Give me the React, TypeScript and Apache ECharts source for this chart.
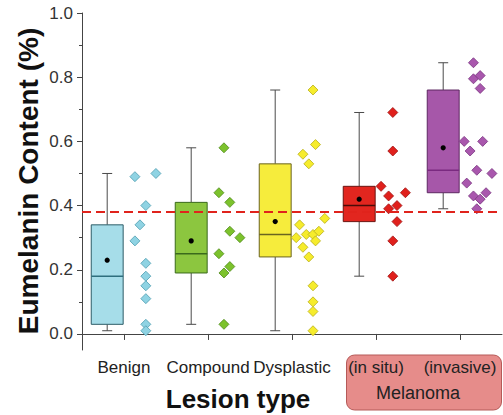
import React, { useEffect, useRef } from "react";
import * as echarts from "echarts";

// ---- data ----
const categories = ["Benign", "Compound", "Dysplastic", "(in situ)", "(invasive)"];
// [min, q1, median, q3, max, mean]
const benignBox = [0.01, 0.03, 0.18, 0.34, 0.5, 0.23];
const compoundBox = [0.03, 0.19, 0.25, 0.41, 0.58, 0.29];
const dysplasticBox = [0.01, 0.24, 0.31, 0.53, 0.76, 0.35];
const inSituBox = [0.18, 0.35, 0.4, 0.46, 0.69, 0.42];
const invasiveBox = [0.39, 0.44, 0.51, 0.76, 0.845, 0.58];

// individual points: [jitter offset from category centre (category units), value]
const benignPts = [
  [0.13, 0.49], [0.38, 0.5], [0.26, 0.4], [0.19, 0.34], [0.13, 0.29], [0.26, 0.22],
  [0.26, 0.18], [0.26, 0.15], [0.26, 0.11], [0.26, 0.03], [0.26, 0.01],
];
const compoundPts = [
  [0.19, 0.58], [0.13, 0.44], [0.26, 0.41], [0.26, 0.32], [0.38, 0.3], [0.13, 0.25],
  [0.26, 0.21], [0.19, 0.19], [0.19, 0.03],
];
const dysplasticPts = [
  [0.25, 0.76], [0.28, 0.59], [0.13, 0.56], [0.2, 0.53], [0.09, 0.34], [0.39, 0.36],
  [0.05, 0.3], [0.17, 0.31], [0.25, 0.31], [0.32, 0.32], [0.28, 0.29], [0.13, 0.27],
  [0.2, 0.24], [0.25, 0.15], [0.25, 0.1], [0.25, 0.07], [0.25, 0.01],
];
const inSituPts = [
  [0.2, 0.69], [0.2, 0.57], [0.06, 0.46], [0.15, 0.43], [0.35, 0.44], [0.25, 0.4],
  [0.15, 0.39], [0.25, 0.35], [0.2, 0.29], [0.2, 0.18],
];
const invasivePts = [
  [0.16, 0.845], [0.16, 0.795], [0.24, 0.805], [0.24, 0.765], [0.05, 0.6], [0.27, 0.6],
  [0.12, 0.57], [0.2, 0.51], [0.38, 0.5], [0.08, 0.47], [0.16, 0.43], [0.24, 0.42],
  [0.31, 0.44], [0.2, 0.39],
];
const thresholdValue = 0.375;
const yMajorTicks = [0, 0.2, 0.4, 0.6, 0.8, 1.0];
const yMinorTicks = [0.1, 0.3, 0.5, 0.7, 0.9];
const yMin = -0.05;
const yMax = 1.0;

const boxes = [benignBox, compoundBox, dysplasticBox, inSituBox, invasiveBox];
const points = [benignPts, compoundPts, dysplasticPts, inSituPts, invasivePts];

// ---- styles ----
const FONT = "'Liberation Sans', Arial, Helvetica, sans-serif";
const boxFill = ["#a6dde9", "#8cc63f", "#f6ec3c", "#e2261f", "#a657a9"];
const boxBorder = ["#2e5d68", "#3a6a1c", "#6a6420", "#6a1410", "#5e2862"];
const medianColor = ["#2e6f7e", "#3a6a1c", "#6a6420", "#4a0c08", "#7a2a80"];
const ptFill = ["#8fd3e3", "#7cc22c", "#f6ec2c", "#e0201c", "#a957ad"];
const ptBorder = ["#4e9db0", "#4f8a1a", "#b8ae1a", "#a01414", "#7a3580"];
const BOX_OFFSET = -0.2;
const BOX_WIDTH = 0.38;
const DIAMOND_HALF = 5;

export default function App() {
  const ref = useRef<HTMLDivElement>(null);

  useEffect(() => {
    if (!ref.current) return;
    const chart = echarts.init(ref.current, null, { renderer: "svg" });

    const boxData = boxes.map((b, i) => [i, ...b]);

    const pointSeries = points.map((pts, i) => ({
      type: "custom",
      xAxisIndex: 0,
      yAxisIndex: 0,
      z: 3,
      encode: { x: 0, y: 2 },
      data: pts.map((p) => [i, p[0], p[1]]),
      renderItem: (params: any, api: any) => {
        const c = api.coord([api.value(0), api.value(2)]);
        const band = api.size([1, 0])[0];
        const x = c[0] + api.value(1) * band;
        const y = c[1];
        const h = DIAMOND_HALF;
        return {
          type: "polygon",
          shape: { points: [[x, y - h], [x + h, y], [x, y + h], [x - h, y]] },
          style: { fill: ptFill[i], stroke: ptBorder[i], lineWidth: 0.8 },
        };
      },
      ...(i === 0
        ? {
            markLine: {
              silent: true,
              symbol: "none",
              label: { show: false },
              lineStyle: { color: "#e0231c", width: 2, type: [9, 5] },
              data: [{ yAxis: thresholdValue }],
            },
          }
        : {}),
    }));

    const option: any = {
      animation: false,
      grid: { left: 82, right: 1, top: 13, bottom: 65, containLabel: false },
      xAxis: [
        {
          type: "category",
          data: categories,
          boundaryGap: true,
          axisLine: { show: true, lineStyle: { color: "#444", width: 1 } },
          axisTick: { show: true, alignWithLabel: true, length: 6, lineStyle: { color: "#444" } },
          axisLabel: { interval: 0, margin: 9, fontSize: 17, color: "#222", fontFamily: FONT },
          splitLine: { show: false },
          splitArea: { show: false },
        },
      ],
      yAxis: [
        {
          type: "value",
          min: yMin,
          max: yMax,
          axisLine: { show: true, lineStyle: { color: "#444", width: 1 } },
          axisTick: { show: true, length: 5, customValues: yMajorTicks, lineStyle: { color: "#444" } },
          axisLabel: {
            customValues: yMajorTicks,
            margin: 9,
            fontSize: 17,
            color: "#333",
            fontFamily: FONT,
            formatter: (v: number) => v.toFixed(1),
          },
          splitLine: { show: false },
        },
        {
          type: "value",
          min: yMin,
          max: yMax,
          position: "left",
          axisLine: { show: false },
          axisTick: { show: true, length: 3, customValues: yMinorTicks, lineStyle: { color: "#444" } },
          axisLabel: { show: false },
          splitLine: { show: false },
        },
      ],
      graphic: {
        elements: [
          {
            type: "rect",
            z: -10,
            shape: { x: 346.5, y: 355, width: 155, height: 55, r: 8 },
            style: { fill: "#e68c8a", stroke: "#b55a58", lineWidth: 1 },
          },
          {
            type: "text",
            x: 418,
            y: 393,
            style: {
              text: "Melanoma",
              fontSize: 18,
              fontFamily: FONT,
              fill: "#222",
              textAlign: "center",
              textVerticalAlign: "middle",
            },
          },
          {
            type: "text",
            x: 238,
            y: 399,
            style: {
              text: "Lesion type",
              fontSize: 26,
              fontWeight: "bold",
              fontFamily: FONT,
              fill: "#111",
              textAlign: "center",
              textVerticalAlign: "middle",
            },
          },
          {
            type: "text",
            x: 28,
            y: 181,
            rotation: Math.PI / 2,
            style: {
              text: "Eumelanin Content (%)",
              fontSize: 28,
              fontWeight: "bold",
              fontFamily: FONT,
              fill: "#111",
              textAlign: "center",
              textVerticalAlign: "middle",
            },
          },
        ],
      },
      series: [
        {
          type: "custom",
          xAxisIndex: 0,
          yAxisIndex: 0,
          z: 2,
          encode: { x: 0, y: [1, 2, 3, 4, 5, 6] },
          data: boxData,
          renderItem: (params: any, api: any) => {
            const i = params.dataIndex;
            const band = api.size([1, 0])[0];
            const base = api.coord([api.value(0), api.value(1)]);
            const cx = base[0] + BOX_OFFSET * band;
            const yOf = (k: number) => api.coord([api.value(0), api.value(k)])[1];
            const lo = yOf(1);
            const q1 = yOf(2);
            const med = yOf(3);
            const q3 = yOf(4);
            const hi = yOf(5);
            const mean = yOf(6);
            const w = BOX_WIDTH * band;
            const capHalf = 5;
            const wStyle = { stroke: "#4a4a4a", lineWidth: 1 };
            return {
              type: "group",
              children: [
                { type: "line", shape: { x1: cx, y1: lo, x2: cx, y2: q1 }, style: wStyle },
                { type: "line", shape: { x1: cx, y1: q3, x2: cx, y2: hi }, style: wStyle },
                { type: "line", shape: { x1: cx - capHalf, y1: lo, x2: cx + capHalf, y2: lo }, style: wStyle },
                { type: "line", shape: { x1: cx - capHalf, y1: hi, x2: cx + capHalf, y2: hi }, style: wStyle },
                {
                  type: "rect",
                  shape: { x: cx - w / 2, y: q3, width: w, height: q1 - q3 },
                  style: { fill: boxFill[i], stroke: boxBorder[i], lineWidth: 1 },
                },
                {
                  type: "line",
                  shape: { x1: cx - w / 2, y1: med, x2: cx + w / 2, y2: med },
                  style: { stroke: medianColor[i], lineWidth: 1.5 },
                },
                {
                  type: "circle",
                  shape: { cx: cx, cy: mean, r: 2.6 },
                  style: { fill: "#000" },
                },
              ],
            };
          },
        },
        ...pointSeries,
      ],
    };

    chart.setOption(option);
    return () => chart.dispose();
  }, []);

  return (
    <div
      ref={ref}
      style={{ position: "absolute", left: 0, top: 0, width: 503, height: 415, background: "#fff" }}
    />
  );
}
